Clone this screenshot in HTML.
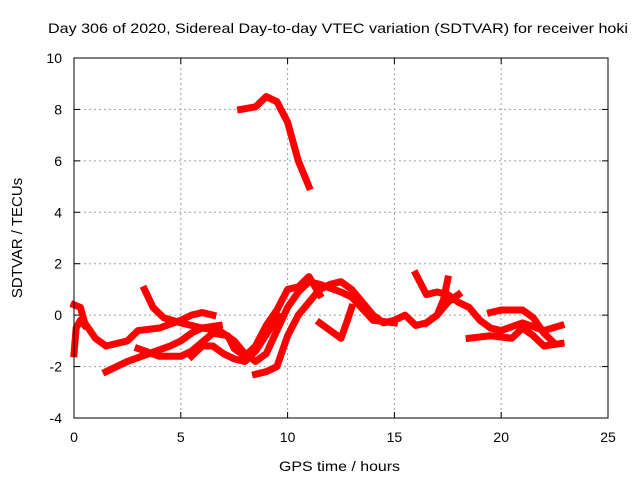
<!DOCTYPE html>
<html><head><meta charset="utf-8"><style>
body{margin:0;background:#fff}
svg{display:block;font-family:"Liberation Sans",sans-serif}
</style></head><body>
<svg id="c" width="640" height="480">
<text x="48" y="33" font-size="14" textLength="580" lengthAdjust="spacingAndGlyphs">Day 306 of 2020, Sidereal Day-to-day VTEC variation (SDTVAR) for receiver hoki</text>
<text x="279" y="471" font-size="14" textLength="121" lengthAdjust="spacingAndGlyphs">GPS time / hours</text>
<text transform="translate(22,238) rotate(-90)" text-anchor="middle" font-size="15">SDTVAR / TECUs</text>
<g id="grid"></g><g id="marks"></g>
<rect x="74" y="58" width="534" height="360" fill="none" stroke="#000"/>
</svg>
<script>
const xTicks=[0,5,10,15,20,25];
const yTicks=[-4,-2,0,2,4,6,8,10];
const trackA=[[7.8,8.0],[8.5,8.1],[9.0,8.5],[9.5,8.3],[10.0,7.5],[10.5,6.0],[11.0,5.0]];
const trackB=[[0,0.4],[0.3,0.3],[0.5,-0.3],[1,-0.9],[1.5,-1.2],[2.5,-1.0],[3,-0.6],[4,-0.5],[5,-0.2],[5.5,0],[6,0.1],[6.5,0]];
const trackC=[[0,-1.5],[0.1,-0.5],[0.3,-0.2],[0.5,-0.4]];
const trackD=[[3.3,1.0],[3.7,0.3],[4.2,-0.1],[5,-0.3],[6,-0.5],[6.8,-0.6],[7.5,-1.0],[8,-1.5],[8.5,-1.8],[9,-1.5],[9.5,-0.6],[10,0.3],[10.5,0.9],[11,1.3],[11.5,1.2],[12.5,0.9],[13,0.7],[14,-0.2],[15,-0.3]];
const trackE=[[1.5,-2.2],[2.5,-1.8],[3.5,-1.5],[4.5,-1.2],[5,-1.0],[5.5,-0.7],[6,-0.5],[6.8,-0.4]];
const trackF=[[3,-1.3],[4,-1.6],[5,-1.6],[5.5,-1.4],[6.5,-0.7],[7.2,-0.8],[7.5,-1.3],[8,-1.6],[8.5,-1.2],[9,-0.4],[9.5,0.2],[10,1.0],[10.5,1.1],[11,1.5],[11.5,0.8]];
const trackG=[[5.5,-1.6],[6,-1.2],[6.5,-1.2],[7,-1.5],[7.5,-1.7],[8,-1.8],[8.5,-1.4],[9.2,-0.5],[9.5,0]];
const trackH=[[8.5,-2.3],[9,-2.2],[9.5,-2.0],[10,-0.8],[10.5,0],[11,0.5],[11.5,1.0],[12,1.2],[12.5,1.3],[13,1.0],[13.5,0.5],[14,0],[14.5,-0.3],[15,-0.2],[15.5,0],[16,-0.4],[16.5,-0.3],[17,0],[17.5,0.5],[18,0.8]];
const trackI=[[11.5,-0.3],[12,-0.6],[12.5,-0.9],[12.8,-0.2],[13,0.3]];
const trackJ=[[16,1.6],[16.5,0.8],[17,0.9],[17.5,0.8],[18,0.5],[18.5,0.3],[19,-0.2],[19.5,-0.5],[20,-0.6],[21,-0.3],[22,-0.6],[22.8,-0.4]];
const trackK=[[17.5,1.4],[17.3,0.6],[17,0],[16.5,-0.3]];
const trackL=[[18.5,-0.9],[19.5,-0.8],[20.5,-0.9],[21,-0.5],[21.5,-0.8],[22,-1.2],[22.8,-1.1]];
const trackM=[[19.5,0.1],[20,0.2],[21,0.2],[21.5,-0.1],[22,-0.7],[22.5,-1.1]];
const tracks=[trackA,trackB,trackC,trackD,trackE,trackF,trackG,trackH,trackI,trackJ,trackK,trackL,trackM];
const X=t=>74+t*534/25, Y=v=>58+(10-v)*360/14;
const NS='http://www.w3.org/2000/svg';
const grid=document.getElementById('grid'), marks=document.getElementById('marks');
function mk(tag,a,p){const e=document.createElementNS(NS,tag);for(const k in a)e.setAttribute(k,a[k]);p.appendChild(e);return e;}
xTicks.forEach(t=>{
  if(t>0&&t<25){const g=mk('line',{x1:X(t),x2:X(t),y1:58,y2:418,stroke:'#a0a0a0','stroke-dasharray':'2,3'},grid);
  
  }
  mk('line',{x1:X(t),x2:X(t),y1:418,y2:412,stroke:'#000'},grid);
  mk('line',{x1:X(t),x2:X(t),y1:58,y2:64,stroke:'#000'},grid);
  const l=mk('text',{x:X(t),y:442,'text-anchor':'middle','font-size':14},grid);l.textContent=t;
  
  
});
yTicks.forEach(v=>{
  if(v>-4&&v<10){const g=mk('line',{x1:74,x2:608,y1:Y(v),y2:Y(v),stroke:'#a0a0a0','stroke-dasharray':'2,3'},grid);
  
  }
  mk('line',{x1:74,x2:80,y1:Y(v),y2:Y(v),stroke:'#000'},grid);
  mk('line',{x1:602,x2:608,y1:Y(v),y2:Y(v),stroke:'#000'},grid);
  const l=mk('text',{x:62,y:Y(v)+5,'text-anchor':'end','font-size':14},grid);l.textContent=v;
  
  
});
tracks.forEach(tr=>{
  const p=mk('polyline',{points:tr.map(d=>X(d[0])+','+Y(d[1])).join(' '),fill:'none',stroke:'#ff0000','stroke-width':7,'stroke-linejoin':'round','stroke-linecap':'square'},marks);
  
  
});
</script>
</body></html>
